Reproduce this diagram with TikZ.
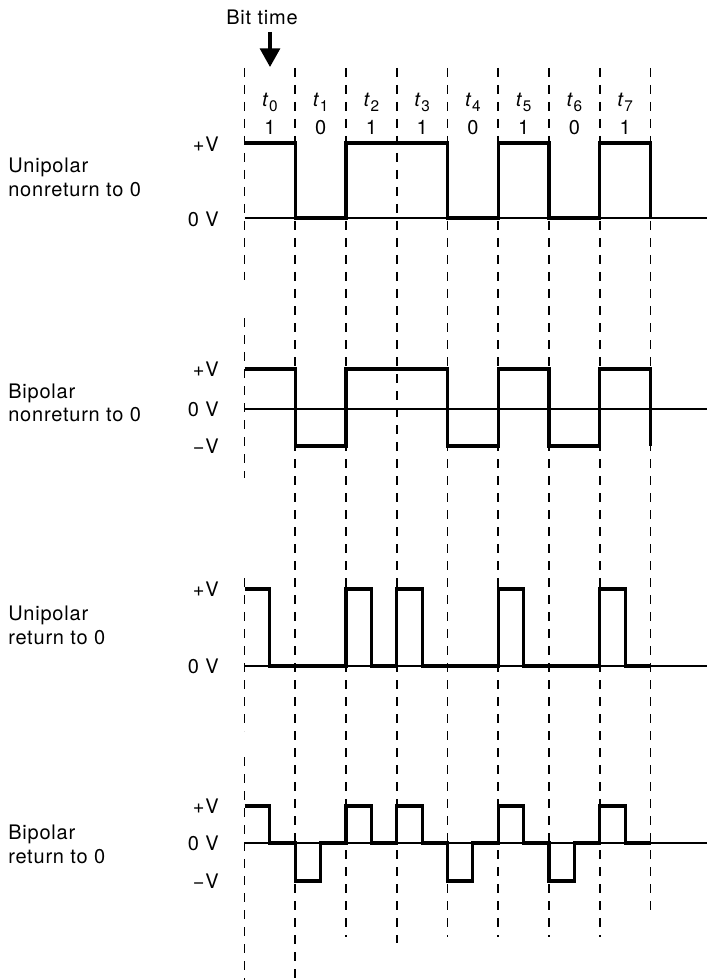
\documentclass[tikz,border=0pt]{standalone}
\usepackage{fontspec}
\setmainfont{TeX Gyre Heros}[LetterSpace=4]
\usetikzlibrary{arrows.meta}
\newcommand\bx[1]{244.5+50.75*(#1)}
\newcommand\tsub[1]{\textit{t}\raisebox{-0.4ex}{\fontsize{11.5}{12}\selectfont #1}}
\begin{document}
\begin{tikzpicture}[x=0.75pt,y=-0.75pt,
  dashv/.style={line width=1.3pt, dash pattern=on 6.75pt off 6pt},
  wave/.style={line width=2.3pt, line join=miter},
  axisline/.style={line width=1.1pt},
  lbl/.style={font=\fontsize{15}{18}\selectfont, inner sep=0pt},
  tlbl/.style={lbl, anchor=base},
  vlbl/.style={lbl, anchor=base east},
  plbl/.style={lbl, anchor=base west}]
\useasboundingbox (0,0) rectangle (707,980);

% dashed bit boundaries
\draw[dashv] ({\bx{0}},68) -- ({\bx{0}},280);
\draw[dashv] ({\bx{0}},318) -- ({\bx{0}},478);
\draw[dashv] ({\bx{0}},578) -- ({\bx{0}},731);
\draw[dashv] ({\bx{0}},757) -- ({\bx{0}},980);
\draw[dashv] ({\bx{1}},68) -- ({\bx{1}},980);
\foreach \i in {2,4,5,6,7} {\draw[dashv] ({\bx{\i}},68) -- ({\bx{\i}},937);}
\draw[dashv] ({\bx{3}},68) -- ({\bx{3}},943);
\draw[dashv] ({\bx{8}},68) -- ({\bx{8}},918);

% Bit time
\node[tlbl] (bittime) at (262,25) {Bit time};
\coordinate (arrtop) at (270,32);
\coordinate (arrtip) at (270,67);
\draw[line width=2.3pt, -{Triangle[width=15pt,length=14pt]}] (arrtop) -- (arrtip);

% t labels and bits
\foreach \i/\b in {0/1,1/0,2/1,3/1,4/0,5/1,6/0,7/1} {
  \node[tlbl] (t\i) at ({\bx{\i+0.5}},107) {\tsub{\i}};
  \node[tlbl] (b\i) at ({\bx{\i+0.5}},135) {\b};
}

% Panel 1: unipolar NRZ
\node[plbl] (p1a) at (8,173) {Unipolar};
\node[plbl] (p1b) at (8,196.5) {nonreturn to 0};
\node[vlbl] (p1h) at (219,152) {+V};
\node[vlbl] (p1z) at (219,226.5) {0 V};
\draw[axisline] ({\bx{0}},218) -- (707,218);
\draw[wave] ({\bx{0}},143) -- ({\bx{1}},143) -- ({\bx{1}},218) -- ({\bx{2}},218) -- ({\bx{2}},143) -- ({\bx{4}},143) -- ({\bx{4}},218) -- ({\bx{5}},218) -- ({\bx{5}},143) -- ({\bx{6}},143) -- ({\bx{6}},218) -- ({\bx{7}},218) -- ({\bx{7}},143) -- ({\bx{8}},143) -- ({\bx{8}},218);

% Panel 2: bipolar NRZ
\node[plbl] (p2a) at (8,398) {Bipolar};
\node[plbl] (p2b) at (8,421) {nonreturn to 0};
\node[vlbl] (p2h) at (219,376.5) {+V};
\node[vlbl] (p2z) at (219,416.5) {0 V};
\node[vlbl] (p2l) at (219,453) {−V};
\draw[axisline] ({\bx{0}},409) -- (707,409);
\draw[wave] ({\bx{0}},369) -- ({\bx{1}},369) -- ({\bx{1}},446) -- ({\bx{2}},446) -- ({\bx{2}},369) -- ({\bx{4}},369) -- ({\bx{4}},446) -- ({\bx{5}},446) -- ({\bx{5}},369) -- ({\bx{6}},369) -- ({\bx{6}},446) -- ({\bx{7}},446) -- ({\bx{7}},369) -- ({\bx{8}},369) -- ({\bx{8}},446);

% Panel 3: unipolar RZ
\node[plbl] (p3a) at (8,620.5) {Unipolar};
\node[plbl] (p3b) at (8,644.5) {return to 0};
\node[vlbl] (p3h) at (219,596.5) {+V};
\node[vlbl] (p3z) at (219,673.5) {0 V};
\draw[axisline] ({\bx{0}},666) -- (707,666);
\draw[wave] ({\bx{0}},589) -- ({\bx{0.5}},589) -- ({\bx{0.5}},666) -- ({\bx{2}},666) -- ({\bx{2}},589) -- ({\bx{2.5}},589) -- ({\bx{2.5}},666) -- ({\bx{3}},666) -- ({\bx{3}},589) -- ({\bx{3.5}},589) -- ({\bx{3.5}},666) -- ({\bx{5}},666) -- ({\bx{5}},589) -- ({\bx{5.5}},589) -- ({\bx{5.5}},666) -- ({\bx{7}},666) -- ({\bx{7}},589) -- ({\bx{7.5}},589) -- ({\bx{7.5}},666) -- ({\bx{8}},666);

% Panel 4: bipolar RZ
\node[plbl] (p4a) at (8,839.5) {Bipolar};
\node[plbl] (p4b) at (8,863.5) {return to 0};
\node[vlbl] (p4h) at (219,813) {+V};
\node[vlbl] (p4z) at (219,850.5) {0 V};
\node[vlbl] (p4l) at (219,888) {−V};
\draw[axisline] ({\bx{0}},843) -- (707,843);
\draw[wave] ({\bx{0}},806) -- ({\bx{0.5}},806) -- ({\bx{0.5}},843) -- ({\bx{1}},843) -- ({\bx{1}},881) -- ({\bx{1.5}},881) -- ({\bx{1.5}},843) -- ({\bx{2}},843) -- ({\bx{2}},806) -- ({\bx{2.5}},806) -- ({\bx{2.5}},843) -- ({\bx{3}},843) -- ({\bx{3}},806) -- ({\bx{3.5}},806) -- ({\bx{3.5}},843) -- ({\bx{4}},843) -- ({\bx{4}},881) -- ({\bx{4.5}},881) -- ({\bx{4.5}},843) -- ({\bx{5}},843) -- ({\bx{5}},806) -- ({\bx{5.5}},806) -- ({\bx{5.5}},843) -- ({\bx{6}},843) -- ({\bx{6}},881) -- ({\bx{6.5}},881) -- ({\bx{6.5}},843) -- ({\bx{7}},843) -- ({\bx{7}},806) -- ({\bx{7.5}},806) -- ({\bx{7.5}},843) -- ({\bx{8}},843);
\end{tikzpicture}
\end{document}
